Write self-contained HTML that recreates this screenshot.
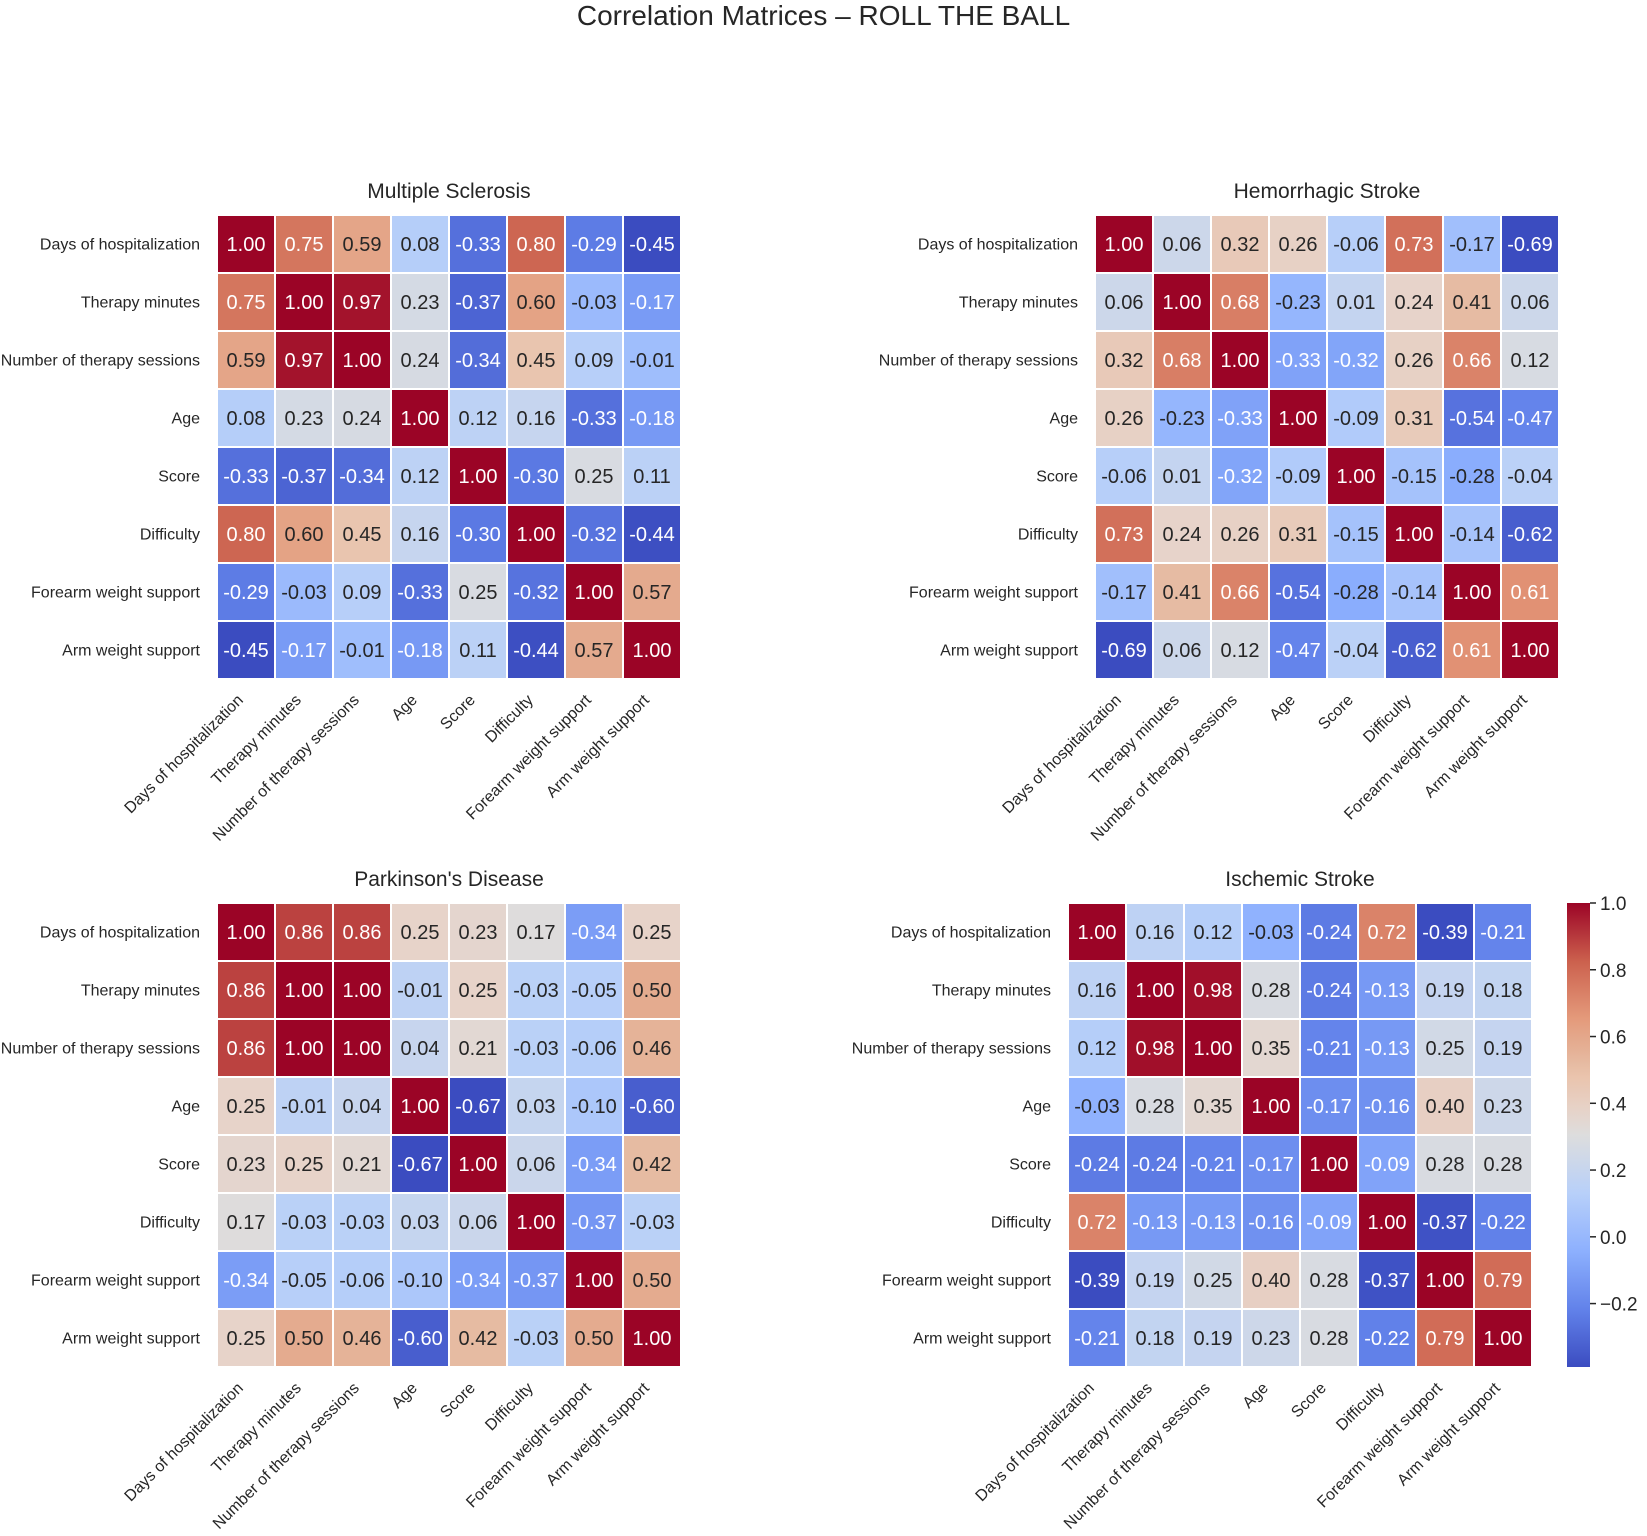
<!DOCTYPE html>
<html><head><meta charset="utf-8">
<style>
html,body{margin:0;padding:0;background:#fff;}
svg{display:block;font-family:"Liberation Sans",Arial,sans-serif;}
</style></head>
<body>
<svg id="s" width="1647" height="1536" viewBox="0 0 1647 1536" xmlns="http://www.w3.org/2000/svg">
<rect width="1647" height="1536" fill="#fff"/>
<text x="823.5" y="25" font-size="28" text-anchor="middle" fill="#262626">Correlation Matrices – ROLL THE BALL</text>
</svg>
<script>
const CW=[[0,59,76,192],[0.125,98,130,234],[0.25,141,176,254],[0.375,184,208,249],[0.5,221,221,221],[0.625,245,196,173],[0.75,244,154,123],[0.875,222,96,77],[1,180,4,38]];
function cmap0(t){t=Math.max(0,Math.min(1,t));for(let i=0;i<CW.length-1;i++){const a=CW[i],b=CW[i+1];if(t<=b[0]){const f=(t-a[0])/(b[0]-a[0]);return [0,1,2].map(k=>Math.round(a[k+1]+(b[k+1]-a[k+1])*f));}}return [180,4,38];}
function adj(c){let r=c[0];
 if(r>c[1]+20 && r>170){const w=Math.min(1,(r-c[1]-20)/40);const r2=Math.min(r,Math.max(r*1.14-50,r-25));r=Math.round(r+(r2-r)*w);}
 return [r,c[1],c[2]];}
function cmap(t){return adj(cmap0(t));}
function lum(c){const l=c.map(v=>{v/=255;return v<=0.03928?v/12.92:Math.pow((v+0.055)/1.055,2.4)});return .2126*l[0]+.7152*l[1]+.0722*l[2];}
const labels=["Days of hospitalization","Therapy minutes","Number of therapy sessions","Age","Score","Difficulty","Forearm weight support","Arm weight support"];
const data={
MS:[[1.00,0.75,0.59,0.08,-0.33,0.80,-0.29,-0.45],[0.75,1.00,0.97,0.23,-0.37,0.60,-0.03,-0.17],[0.59,0.97,1.00,0.24,-0.34,0.45,0.09,-0.01],[0.08,0.23,0.24,1.00,0.12,0.16,-0.33,-0.18],[-0.33,-0.37,-0.34,0.12,1.00,-0.30,0.25,0.11],[0.80,0.60,0.45,0.16,-0.30,1.00,-0.32,-0.44],[-0.29,-0.03,0.09,-0.33,0.25,-0.32,1.00,0.57],[-0.45,-0.17,-0.01,-0.18,0.11,-0.44,0.57,1.00]],
HS:[[1.00,0.06,0.32,0.26,-0.06,0.73,-0.17,-0.69],[0.06,1.00,0.68,-0.23,0.01,0.24,0.41,0.06],[0.32,0.68,1.00,-0.33,-0.32,0.26,0.66,0.12],[0.26,-0.23,-0.33,1.00,-0.09,0.31,-0.54,-0.47],[-0.06,0.01,-0.32,-0.09,1.00,-0.15,-0.28,-0.04],[0.73,0.24,0.26,0.31,-0.15,1.00,-0.14,-0.62],[-0.17,0.41,0.66,-0.54,-0.28,-0.14,1.00,0.61],[-0.69,0.06,0.12,-0.47,-0.04,-0.62,0.61,1.00]],
PD:[[1.00,0.86,0.86,0.25,0.23,0.17,-0.34,0.25],[0.86,1.00,1.00,-0.01,0.25,-0.03,-0.05,0.50],[0.86,1.00,1.00,0.04,0.21,-0.03,-0.06,0.46],[0.25,-0.01,0.04,1.00,-0.67,0.03,-0.10,-0.60],[0.23,0.25,0.21,-0.67,1.00,0.06,-0.34,0.42],[0.17,-0.03,-0.03,0.03,0.06,1.00,-0.37,-0.03],[-0.34,-0.05,-0.06,-0.10,-0.34,-0.37,1.00,0.50],[0.25,0.50,0.46,-0.60,0.42,-0.03,0.50,1.00]],
IS:[[1.00,0.16,0.12,-0.03,-0.24,0.72,-0.39,-0.21],[0.16,1.00,0.98,0.28,-0.24,-0.13,0.19,0.18],[0.12,0.98,1.00,0.35,-0.21,-0.13,0.25,0.19],[-0.03,0.28,0.35,1.00,-0.17,-0.16,0.40,0.23],[-0.24,-0.24,-0.21,-0.17,1.00,-0.09,0.28,0.28],[0.72,-0.13,-0.13,-0.16,-0.09,1.00,-0.37,-0.22],[-0.39,0.19,0.25,0.40,0.28,-0.37,1.00,0.79],[-0.21,0.18,0.19,0.23,0.28,-0.22,0.79,1.00]]};
const panels=[["MS","Multiple Sclerosis",217,215],["HS","Hemorrhagic Stroke",1095,215],["PD","Parkinson's Disease",217,903],["IS","Ischemic Stroke",1068,903]];
const C=58;let h='';
for(const [k,title,x0,y0] of panels){
 const m=data[k];let mn=Math.min(...m.flat());
 h+=`<text x="${x0+4*C}" y="${y0-17}" font-size="21" text-anchor="middle" fill="#262626">${title}</text>`;
 for(let i=0;i<8;i++)for(let j=0;j<8;j++){
  const v=m[i][j],t=(v-mn)/(1-mn),c0=cmap0(t),c=adj(c0);const tc=lum(c0)>0.408?'#262626':'#fff';
  const x=x0+j*C,y=y0+i*C;
  h+=`<rect x="${x}" y="${y}" width="${C}" height="${C}" fill="rgb(${c})" stroke="#fff" stroke-width="2"/>`;
  h+=`<text x="${x+C/2}" y="${y+C/2+7}" font-size="20" text-anchor="middle" fill="${tc}">${v.toFixed(2)}</text>`;
 }
 for(let i=0;i<8;i++){
  h+=`<text x="${x0-17}" y="${y0+i*C+C/2+5.5}" font-size="16" text-anchor="end" fill="#262626">${labels[i]}</text>`;
  const px=x0+i*C+C/2-2,py=y0+8*C+22;
  h+=`<text transform="translate(${px},${py}) rotate(-45)" font-size="16" text-anchor="end" fill="#262626">${labels[i]}</text>`;
 }
}
const cx=1567,cy=903,cw=23,ch=464,mn=-0.39;
let st='';for(let i=0;i<=32;i++){const t=i/32;const c=cmap(1-t);st+=`<stop offset="${t}" stop-color="rgb(${c})"/>`;}
h+=`<defs><linearGradient id="g" x1="0" y1="0" x2="0" y2="1">${st}</linearGradient></defs><rect x="${cx}" y="${cy}" width="${cw}" height="${ch}" fill="url(#g)"/>`;
for(const v of [1,0.8,0.6,0.4,0.2,0,-0.2]){const y=cy+(1-v)/(1-mn)*ch;
 h+=`<line x1="${cx+cw}" y1="${y}" x2="${cx+cw+6}" y2="${y}" stroke="#262626" stroke-width="1.5"/>`;
 h+=`<text x="${cx+cw+10}" y="${y+7}" font-size="19" fill="#262626">${v<0?'\u2212':''}${Math.abs(v).toFixed(1)}</text>`;}
document.getElementById('s').insertAdjacentHTML('beforeend',h);
</script>
</body></html>
